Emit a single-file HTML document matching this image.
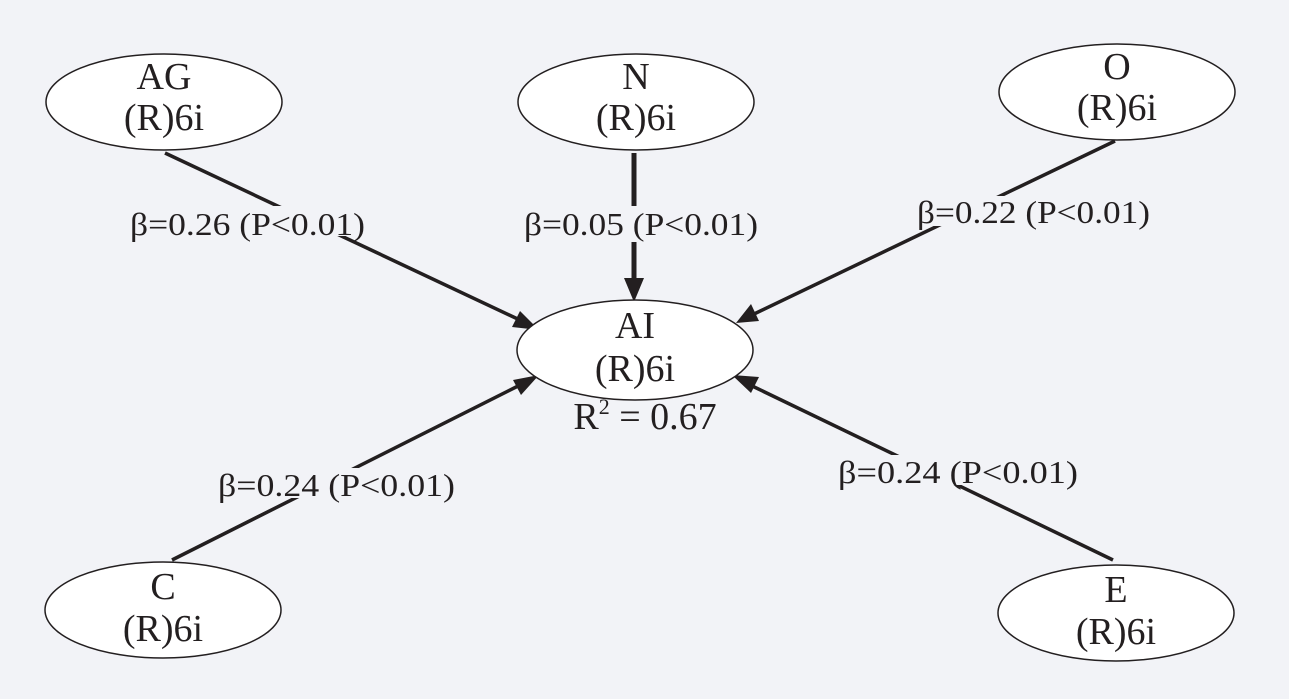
<!DOCTYPE html>
<html><head><meta charset="utf-8"><style>
html,body{margin:0;padding:0;background:#f2f3f7;}
svg{display:block;}
text{font-family:"Liberation Serif",serif;fill:#231f20;}
</style></head><body>
<svg width="1289" height="699" viewBox="0 0 1289 699" xmlns="http://www.w3.org/2000/svg">
<rect width="1289" height="699" fill="#f2f3f7"/>
<g stroke="#231f20" stroke-width="3.5" fill="none">
<line x1="165" y1="153" x2="522" y2="321"/>
<line x1="1115" y1="141" x2="752" y2="315"/>
<line x1="172" y1="560" x2="522" y2="384"/>
<line x1="1113" y1="560" x2="748" y2="384"/>
<line x1="634" y1="153" x2="634" y2="285" stroke-width="5"/>
</g>
<g fill="#231f20">
<polygon points="539,330 512,327 520,311"/>
<polygon points="736,323 751,304 759,321"/>
<polygon points="539,375 513,380 521,395"/>
<polygon points="732,375 759,377 751,393"/>
<polygon points="634,302 624,278 644,278"/>
</g>
<g fill="#f2f3f7">
<rect x="128" y="206" width="240" height="30"/>
<rect x="522" y="206" width="238" height="36"/>
<rect x="916" y="196" width="236" height="30"/>
<rect x="216" y="468" width="241" height="30"/>
<rect x="836" y="455" width="244" height="30"/>
</g>
<g fill="#fff" stroke="#231f20" stroke-width="1.5">
<ellipse cx="164" cy="102" rx="118" ry="48"/>
<ellipse cx="636" cy="102" rx="118" ry="48"/>
<ellipse cx="1117" cy="92" rx="118" ry="48"/>
<ellipse cx="635" cy="350" rx="118" ry="50"/>
<ellipse cx="163" cy="610" rx="118" ry="48"/>
<ellipse cx="1116" cy="613" rx="118" ry="48"/>
</g>
<g font-size="38" text-anchor="middle">
<text x="164" y="89">AG</text><text x="164" y="130">(R)6i</text>
<text x="636" y="89">N</text><text x="636" y="130">(R)6i</text>
<text x="1117" y="79">O</text><text x="1117" y="120">(R)6i</text>
<text x="635" y="338">AI</text><text x="635" y="381">(R)6i</text>
<text x="645" y="429">R<tspan font-size="22" dy="-15">2</tspan><tspan dy="15"> = 0.67</tspan></text>
<text x="163" y="599">C</text><text x="163" y="641">(R)6i</text>
<text x="1116" y="602">E</text><text x="1116" y="644">(R)6i</text>
</g>
<g font-size="32">
<text x="130" y="235" textLength="235" lengthAdjust="spacingAndGlyphs">β=0.26 (P&lt;0.01)</text>
<text x="524" y="235" textLength="234" lengthAdjust="spacingAndGlyphs">β=0.05 (P&lt;0.01)</text>
<text x="917" y="223" textLength="233" lengthAdjust="spacingAndGlyphs">β=0.22 (P&lt;0.01)</text>
<text x="218" y="496" textLength="237" lengthAdjust="spacingAndGlyphs">β=0.24 (P&lt;0.01)</text>
<text x="838" y="483" textLength="240" lengthAdjust="spacingAndGlyphs">β=0.24 (P&lt;0.01)</text>
</g>
</svg>
</body></html>
